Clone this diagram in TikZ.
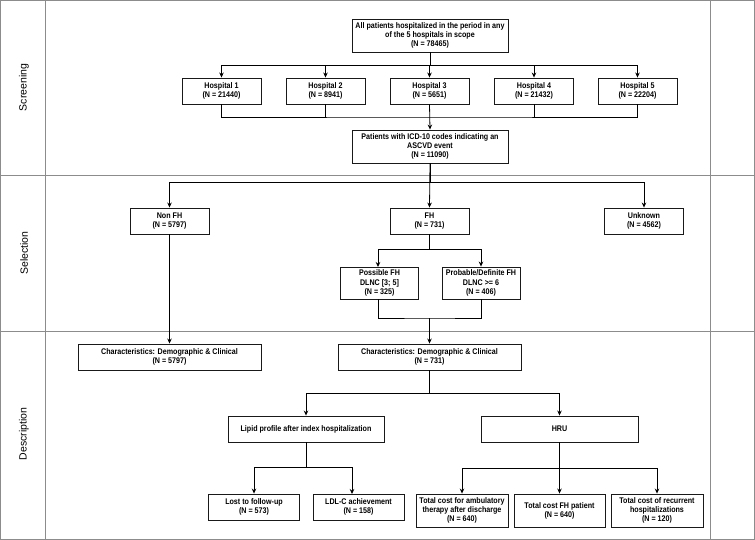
\documentclass[tikz,border=0pt]{standalone}
\usepackage{fontspec}
\setmainfont{Liberation Sans}
\newfontfamily\boxfont[FakeStretch=0.87]{Liberation Sans}
\usetikzlibrary{arrows.meta}
\tikzset{
  box/.style={draw=black!90, line width=0.9pt, fill=white, align=center, inner sep=1pt,
    font=\boxfont\fontsize{8.2}{9.2}\selectfont\bfseries},
  wA/.style={minimum width=79pt, minimum height=26pt},
  wB/.style={minimum width=156pt, minimum height=33pt},
  conn/.style={line width=0.8pt, draw=black},
  arr/.style={conn, -{Stealth[length=5pt, width=4.5pt]}},
  lane/.style={draw=black!45, line width=0.8pt},
  lanelabel/.style={rotate=90, font=\fontsize{10.5}{12}\selectfont}
}
\begin{document}
\begin{tikzpicture}[x=1pt, y=-1pt]
\useasboundingbox (0,0) rectangle (755,540);
\fill[white] (0,0) rectangle (755,540);
% lanes
\draw[lane] (0.5,0.5) rectangle (754.5,539.5);
\draw[lane] (45,0.5) -- (45,539.5);
\draw[lane] (710,0.5) -- (710,539.5);
\draw[lane] (0.5,175) -- (754.5,175);
\draw[lane] (0.5,331) -- (754.5,331);
\node[lanelabel] (l1) at (24,87.5) {Screening};
\node[lanelabel] (l2) at (24,253) {Selection};
\node[lanelabel] (l3) at (24,434) {Description};
% screening
\node[box, wB] (top) at (430,35.5) {All patients hospitalized in the period in any\\of the 5 hospitals in scope\\(N = 78465)};
\node[box, wA] (h1) at (221.5,91) {Hospital 1\\(N = 21440)};
\node[box, wA] (h2) at (325.5,91) {Hospital 2\\(N = 8941)};
\node[box, wA] (h3) at (429.5,91) {Hospital 3\\(N = 5651)};
\node[box, wA] (h4) at (534,91) {Hospital 4\\(N = 21432)};
\node[box, wA] (h5) at (637.5,91) {Hospital 5\\(N = 22204)};
\node[box, wB] (ascvd) at (430,146.5) {Patients with ICD-10 codes indicating an\\ASCVD event\\(N = 11090)};
\foreach \h in {h1,h2,h3,h4,h5} {\draw[arr] (top.south) -- ++(0,13) -| (\h.north);}
\coordinate (mg) at (429.5,117);
\draw[conn] (h1.south) |- (mg) -| (h5.south);
\draw[conn] (h2.south) -- (h2.south |- mg);
\draw[conn] (h4.south) -- (h4.south |- mg);
\draw[arr] (h3.south) -- (ascvd.north);
% selection
\node[box, wA] (nonfh) at (169.5,221) {Non FH\\(N = 5797)};
\node[box, wA] (fh) at (429.5,221) {FH\\(N = 731)};
\node[box, wA] (unk) at (644,221) {Unknown\\(N = 4562)};
\node[box, minimum width=78pt, minimum height=32pt] (poss) at (379.5,283) {Possible FH\\DLNC [3; 5]\\(N = 325)};
\node[box, minimum width=78pt, minimum height=32pt] (prob) at (481,283) {Probable/Definite FH\\DLNC >= 6\\(N = 406)};
\draw[arr] (ascvd.south) -- ++(0,19) -| (nonfh.north);
\draw[arr] (ascvd.south) -- ++(0,19) -| (unk.north);
\draw[arr] (ascvd.south) -- (fh.north);
\coordinate (pin) at (378,267);
\draw[arr] (fh.south) -- ++(0,15) -| (pin);
\draw[arr] (fh.south) -- ++(0,15) -| (prob.north);
% description
\node[box, minimum width=183pt, minimum height=26pt] (char1) at (169.5,357) {Characteristics: Demographic \& Clinical\\(N = 5797)};
\node[box, minimum width=183pt, minimum height=26pt] (char2) at (429.5,357) {Characteristics: Demographic \& Clinical\\(N = 731)};
\coordinate (mg2) at (429.5,318);
\coordinate (pout) at (378,299);
\draw[conn] (pout) |- (mg2) -| (prob.south);
\draw[arr] (mg2) -- (char2.north);
\draw[arr] (nonfh.south) -- (char1.north);
\node[box, minimum width=156pt, minimum height=26pt] (lipid) at (306,429) {Lipid profile after index hospitalization};
\node[box, minimum width=157pt, minimum height=26pt] (hru) at (559.5,429) {HRU};
\draw[arr] (char2.south) -- ++(0,23) -| (lipid.north);
\draw[arr] (char2.south) -- ++(0,23) -| (hru.north);
\node[box, minimum width=91pt, minimum height=26pt] (lost) at (254,507) {Lost to follow-up\\(N = 573)};
\node[box, minimum width=91pt, minimum height=26pt] (ldl) at (358.5,507) {LDL-C achievement\\(N = 158)};
\coordinate (ldlin) at (352,494);
\draw[arr] (lipid.south) -- ++(0,25) -| (lost.north);
\draw[arr] (lipid.south) -- ++(0,25) -| (ldlin);
\node[box, minimum width=92pt, minimum height=33pt] (amb) at (462,510.5) {Total cost for ambulatory\\therapy after discharge\\(N = 640)};
\node[box, minimum width=91pt, minimum height=33pt] (tot) at (559.5,510.5) {Total cost FH patient\\(N = 640)};
\node[box, minimum width=92pt, minimum height=33pt] (rec) at (657,510.5) {Total cost of recurrent\\hospitalizations\\(N = 120)};
\draw[arr] (hru.south) -- ++(0,26) -| (amb.north);
\draw[arr] (hru.south) -- (tot.north);
\draw[arr] (hru.south) -- ++(0,26) -| (rec.north);
\end{tikzpicture}
\end{document}
